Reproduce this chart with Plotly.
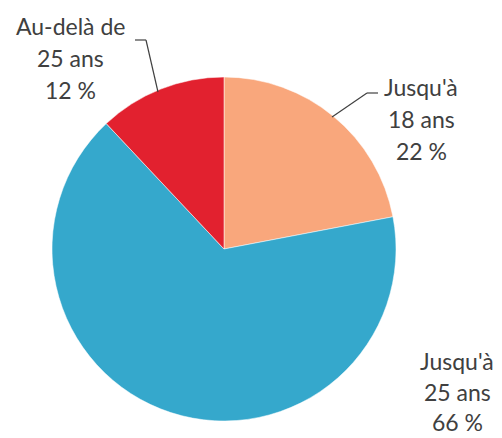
import plotly.graph_objects as go

W, H = 502, 438

categories = ["Jusqu'à 18 ans", "Jusqu'à 25 ans", "Au-delà de 25 ans"]
label_lines = [["Jusqu'à", "18 ans"], ["Jusqu'à", "25 ans"], ["Au-delà de", "25 ans"]]
values = [22, 66, 12]
colors = ["#F9A77C", "#35A8CC", "#E2212F"]

# label positions (pixels): centre x, centre of first line, line gap
label_pos = [(421, 87, 32), (457, 361, 30.5), (70, 26, 32)]

fig = go.Figure()
fig.add_trace(go.Pie(
    labels=categories,
    values=values,
    sort=False,
    direction="clockwise",
    rotation=0,
    marker=dict(colors=colors, line=dict(color="rgba(255,255,255,0.5)", width=1)),
    textinfo="none",
    hoverinfo="label+percent",
    showlegend=False,
    domain=dict(x=[52 / W, 396 / W], y=[(H - 421) / H, (H - 77) / H]),
))

font = dict(family="Lato, 'Open Sans', sans-serif", size=23, color="#404040")
for lines, v, (px, py, gap) in zip(label_lines, values, label_pos):
    all_lines = lines + [f"{v} %"]
    for i, line in enumerate(all_lines):
        cy = py + i * gap
        fig.add_annotation(
            x=px / W, y=1 - cy / H, xref="paper", yref="paper",
            text=line, showarrow=False, font=font, align="center",
            xanchor="center", yanchor="middle", borderpad=0,
        )

# leader lines (pixels)
leaders = [
    [(378, 93), (367, 93), (332, 117)],
    [(135, 40), (146, 40), (158, 92)],
]
for pts in leaders:
    for (x0, y0), (x1, y1) in zip(pts[:-1], pts[1:]):
        fig.add_shape(type="line", xref="paper", yref="paper",
                      x0=x0 / W, y0=1 - y0 / H, x1=x1 / W, y1=1 - y1 / H,
                      line=dict(color="#404040", width=1.2))

fig.update_layout(
    width=W, height=H,
    margin=dict(l=0, r=0, t=0, b=0),
    paper_bgcolor="white", plot_bgcolor="white",
)
fig.write_html("out.html", config={"displayModeBar": False},
               post_script="document.body.style.margin='0';document.body.style.overflow='hidden';")
